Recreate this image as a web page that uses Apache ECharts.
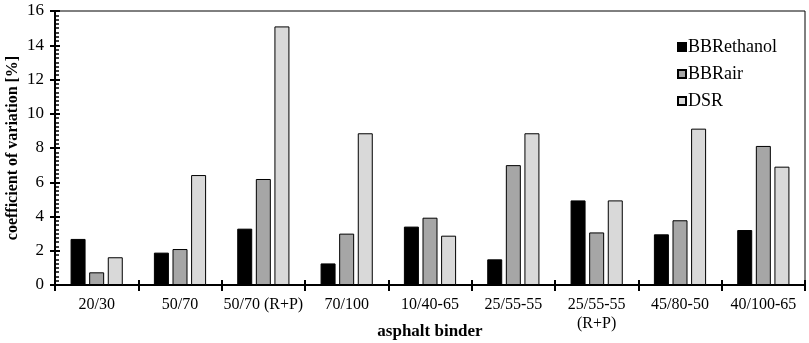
<!DOCTYPE html>
<html>
<head>
<meta charset="utf-8">
<script src="https://cdn.jsdelivr.net/npm/echarts@6/dist/echarts.min.js"></script>
<style>
  html, body { margin: 0; padding: 0; background: #fff; }
  #chart { width: 809px; height: 343px; }
</style>
</head>
<body>
<div id="chart"></div>
<script>
// asphalt binders on the x axis
const binders = ['20/30', '50/70', '50/70 (R+P)', '70/100', '10/40-65', '25/55-55', '25/55-55\n(R+P)', '45/80-50', '40/100-65'];

// coefficient of variation [%]
const bbrEthanol = [2.69, 1.89, 3.29, 1.26, 3.41, 1.50, 4.94, 2.96, 3.21];
const bbrAir     = [0.74, 2.10, 6.19, 3.00, 3.93, 7.00, 3.07, 3.78, 8.12];
const dsr        = [1.62, 6.42, 15.10, 8.86, 2.88, 8.86, 4.94, 9.13, 6.91];

const yTicks = [0, 2, 4, 6, 8, 10, 12, 14, 16];

const font = 'Liberation Serif';

(function () {
  const chart = echarts.init(document.getElementById('chart'));

  const barStyle = (color) => ({ color: color, borderColor: '#000', borderWidth: 1 });

  const option = {
    animation: false,
    textStyle: { fontFamily: font },
    grid: {
      left: 55, right: 4, top: 11, bottom: 58,
      containLabel: false, outerBoundsMode: 'none',
      show: true, borderColor: '#000', borderWidth: 1
    },
    legend: {
      orient: 'vertical',
      left: 672, top: 33,
      itemWidth: 8, itemHeight: 8, itemGap: 9,
      icon: 'rect',
      textStyle: { fontFamily: font, fontSize: 18, color: '#000', padding: [0, 0, 0, -3] },
      data: ['BBRethanol', 'BBRair', 'DSR']
    },
    xAxis: [
      {
        type: 'category',
        data: binders,
        name: 'asphalt binder',
        nameLocation: 'middle',
        nameGap: 38,
        nameMoveOverlap: false,
        nameTextStyle: { fontFamily: font, fontSize: 17, fontWeight: 'bold', color: '#000' },
        axisLine: { lineStyle: { color: '#000', width: 2 } },
        axisTick: { show: true, length: 6, lineStyle: { color: '#000', width: 2 } },
        axisLabel: { fontFamily: font, fontSize: 16, color: '#000', margin: 10, lineHeight: 19, interval: 0 }
      },
      {
        type: 'category',
        data: binders,
        position: 'bottom',
        axisLine: { show: false },
        axisTick: { show: true, inside: true, length: 5, lineStyle: { color: '#000', width: 2 } },
        axisLabel: { show: false }
      }
    ],
    yAxis: [
      {
        type: 'value',
        min: 0, max: 16, interval: 2,
        name: 'coefficient of variation [%]',
        nameLocation: 'middle',
        nameGap: 34,
        nameMoveOverlap: false,
        nameTextStyle: { fontFamily: font, fontSize: 16, fontWeight: 'bold', color: '#000' },
        axisLine: { show: true, lineStyle: { color: '#000', width: 2 } },
        axisTick: { show: true, inside: true, length: 5, lineStyle: { color: '#000', width: 2 } },
        minorTick: { show: true, splitNumber: 8, length: 4, lineStyle: { color: '#000', width: 1.5 } },
        splitLine: { show: false },
        axisLabel: {
          fontFamily: font, fontSize: 17, color: '#000', margin: 11,
          formatter: (v) => yTicks.includes(v) ? String(v) : ''
        }
      },
      {
        type: 'value',
        min: 0, max: 16, interval: 2,
        position: 'left',
        axisLine: { show: false },
        axisTick: { show: true, length: 5, lineStyle: { color: '#000', width: 2 } },
        splitLine: { show: false },
        axisLabel: { show: false }
      }
    ],
    series: [
      { name: 'BBRethanol', type: 'bar', data: bbrEthanol, barWidth: 15, barGap: '24%', itemStyle: barStyle('#000000') },
      { name: 'BBRair', type: 'bar', data: bbrAir, barWidth: 15, barGap: '24%', itemStyle: barStyle('#a6a6a6') },
      { name: 'DSR', type: 'bar', data: dsr, barWidth: 15, barGap: '24%', itemStyle: barStyle('#d9d9d9') }
    ]
  };

  chart.setOption(option);
  window.addEventListener('resize', () => chart.resize());
})();
</script>
</body>
</html>
